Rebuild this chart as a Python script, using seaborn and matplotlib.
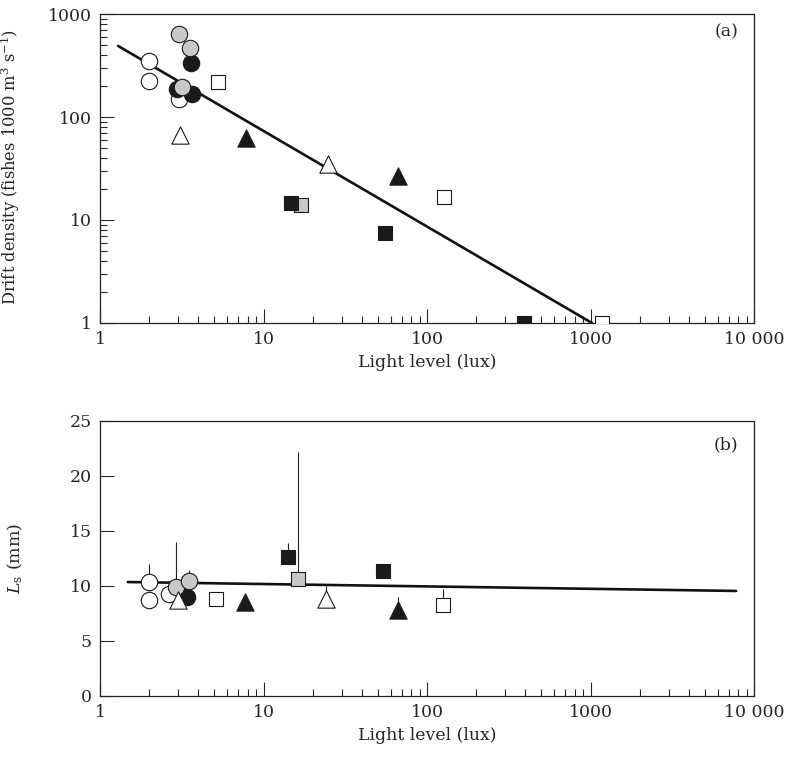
import numpy as np
import pandas as pd
import seaborn as sns
import matplotlib
matplotlib.use("Agg")
from matplotlib import pyplot as plt
from matplotlib import ticker

# ---- panel (a): drift density vs light level ----
a_kind = (["open_circle"] * 3 + ["grey_circle"] * 3 + ["black_circle"] * 3
          + ["open_triangle"] * 2 + ["black_triangle"] * 2
          + ["open_square"] * 3 + ["grey_square"] + ["black_square"] * 3)
a_lux = [2.0, 2.0, 3.04, 3.04, 3.55, 3.17, 3.6, 2.96, 3.66,
         3.08, 24.8, 7.8, 66.5, 5.3, 127, 1175, 16.9, 14.7, 55.5, 392]
a_density = [350, 224, 150, 640, 467, 195, 334, 187, 167,
             67, 35, 62.5, 26.7, 219, 16.7, 1.0, 14.0, 14.6, 7.5, 1.0]
a_fit_lux = [1.29, 1020]
a_fit_density = [490, 1.0]

# ---- panel (b): standard length vs light level ----
b_kind = (["open_circle"] * 3 + ["grey_circle"] * 2 + ["black_circle"]
          + ["open_triangle"] * 2 + ["black_triangle"] * 2
          + ["open_square"] * 2 + ["grey_square"] + ["black_square"] * 2)
b_lux = [2.0, 2.0, 2.64, 2.9, 3.5, 3.4, 3.0, 24.1, 7.7, 66.5, 5.1, 125, 16.3, 14.1, 53.8]
b_length = [10.36, 8.73, 9.27, 9.9, 10.45, 9.0, 8.7, 8.8, 8.5, 7.8, 8.8, 8.27, 10.6, 12.6, 11.36]
b_err_up = [1.64, 0, 0, 4.1, 1.0, 0, 0, 1.2, 0, 1.2, 0, 1.5, 11.6, 1.3, 0]
b_fit_lux = [1.48, 7770]
b_fit_length = [10.36, 9.55]

x_ticks = [1, 10, 100, 1000, 10000]
x_tick_labels = ["1", "10", "100", "1000", "10 000"]
a_y_ticks = [1, 10, 100, 1000]
a_y_tick_labels = ["1", "10", "100", "1000"]
b_y_ticks = [0, 5, 10, 15, 20, 25]

# marker style per group: (marker, fill colour, size)
STYLES = {
    "open_circle": ("o", "white", 140),
    "black_circle": ("o", "#1a1a1a", 140),
    "grey_circle": ("o", "#c8c8c8", 140),
    "open_triangle": ("^", "white", 155),
    "black_triangle": ("^", "#1a1a1a", 155),
    "open_square": ("s", "white", 105),
    "grey_square": ("s", "#c8c8c8", 105),
    "black_square": ("s", "#1a1a1a", 105),
}

sns.set_style("ticks")
plt.rcParams["font.family"] = ["DejaVu Serif"]
plt.rcParams["mathtext.fontset"] = "dejavuserif"
plt.rcParams["xtick.direction"] = "in"
plt.rcParams["ytick.direction"] = "in"


def draw_points(ax, df):
    for kind, (marker, fill, size) in STYLES.items():
        sub = df[df["kind"] == kind]
        if len(sub) == 0:
            continue
        sns.scatterplot(data=sub, x="lux", y="value", marker=marker, s=size,
                        color=fill, edgecolor="#1a1a1a", linewidth=0.8,
                        ax=ax, zorder=3, legend=False)


def style_axes(ax):
    ax.set_xscale("log")
    ax.set_xlim(1, 10000)
    ax.xaxis.set_major_locator(ticker.FixedLocator(x_ticks))
    ax.set_xticklabels(x_tick_labels)
    ax.xaxis.set_minor_locator(ticker.LogLocator(base=10, subs=np.arange(2, 10), numticks=20))
    ax.xaxis.set_minor_formatter(ticker.NullFormatter())
    ax.tick_params(axis="both", which="major", length=10, width=0.8, labelsize=12.5, pad=6)
    ax.tick_params(axis="both", which="minor", length=5, width=0.8)
    for s in ax.spines.values():
        s.set_visible(True)
        s.set_linewidth(0.9)
        s.set_color("#222222")
    ax.set_xlabel("Light level (lux)", fontsize=12.5, labelpad=4)


fig = plt.figure(figsize=(7.88, 7.58), dpi=100)
ax_a = fig.add_axes([0.1269, 0.5739, 0.830, 0.4076])
ax_b = fig.add_axes([0.1269, 0.0818, 0.830, 0.3628])

# panel (a)
df_a = pd.DataFrame({"kind": a_kind, "lux": a_lux, "value": a_density})
sns.lineplot(x=a_fit_lux, y=a_fit_density, color="#111111", linewidth=1.9, ax=ax_a, zorder=2)
draw_points(ax_a, df_a)
style_axes(ax_a)
ax_a.set_yscale("log")
ax_a.set_ylim(1, 1000)
ax_a.yaxis.set_major_locator(ticker.FixedLocator(a_y_ticks))
ax_a.set_yticklabels(a_y_tick_labels)
ax_a.yaxis.set_minor_locator(ticker.LogLocator(base=10, subs=np.arange(2, 10), numticks=20))
ax_a.yaxis.set_minor_formatter(ticker.NullFormatter())
ax_a.set_ylabel(r"Drift density (fishes 1000 m$^3$ s$^{-1}$)", fontsize=11.7)
ax_a.yaxis.set_label_coords(-0.119, 0.505)
ax_a.text(0.977, 0.942, "(a)", transform=ax_a.transAxes, ha="right", va="center", fontsize=12.5)

# panel (b)
df_b = pd.DataFrame({"kind": b_kind, "lux": b_lux, "value": b_length, "err": b_err_up})
sns.lineplot(x=b_fit_lux, y=b_fit_length, color="#111111", linewidth=1.9, ax=ax_b, zorder=2)
ax_b.errorbar(df_b["lux"], df_b["value"], yerr=[np.zeros(len(df_b)), df_b["err"]],
              fmt="none", ecolor="#222222", elinewidth=0.8, capsize=0, zorder=1)
draw_points(ax_b, df_b)
style_axes(ax_b)
ax_b.set_ylim(0, 25)
ax_b.yaxis.set_major_locator(ticker.FixedLocator(b_y_ticks))
ax_b.set_ylabel(r"$L_{\rm s}$ (mm)", fontsize=12.5)
ax_b.yaxis.set_label_coords(-0.115, 0.5)
ax_b.text(0.976, 0.913, "(b)", transform=ax_b.transAxes, ha="right", va="center", fontsize=12.5)

fig.savefig("out.png", dpi=100)
